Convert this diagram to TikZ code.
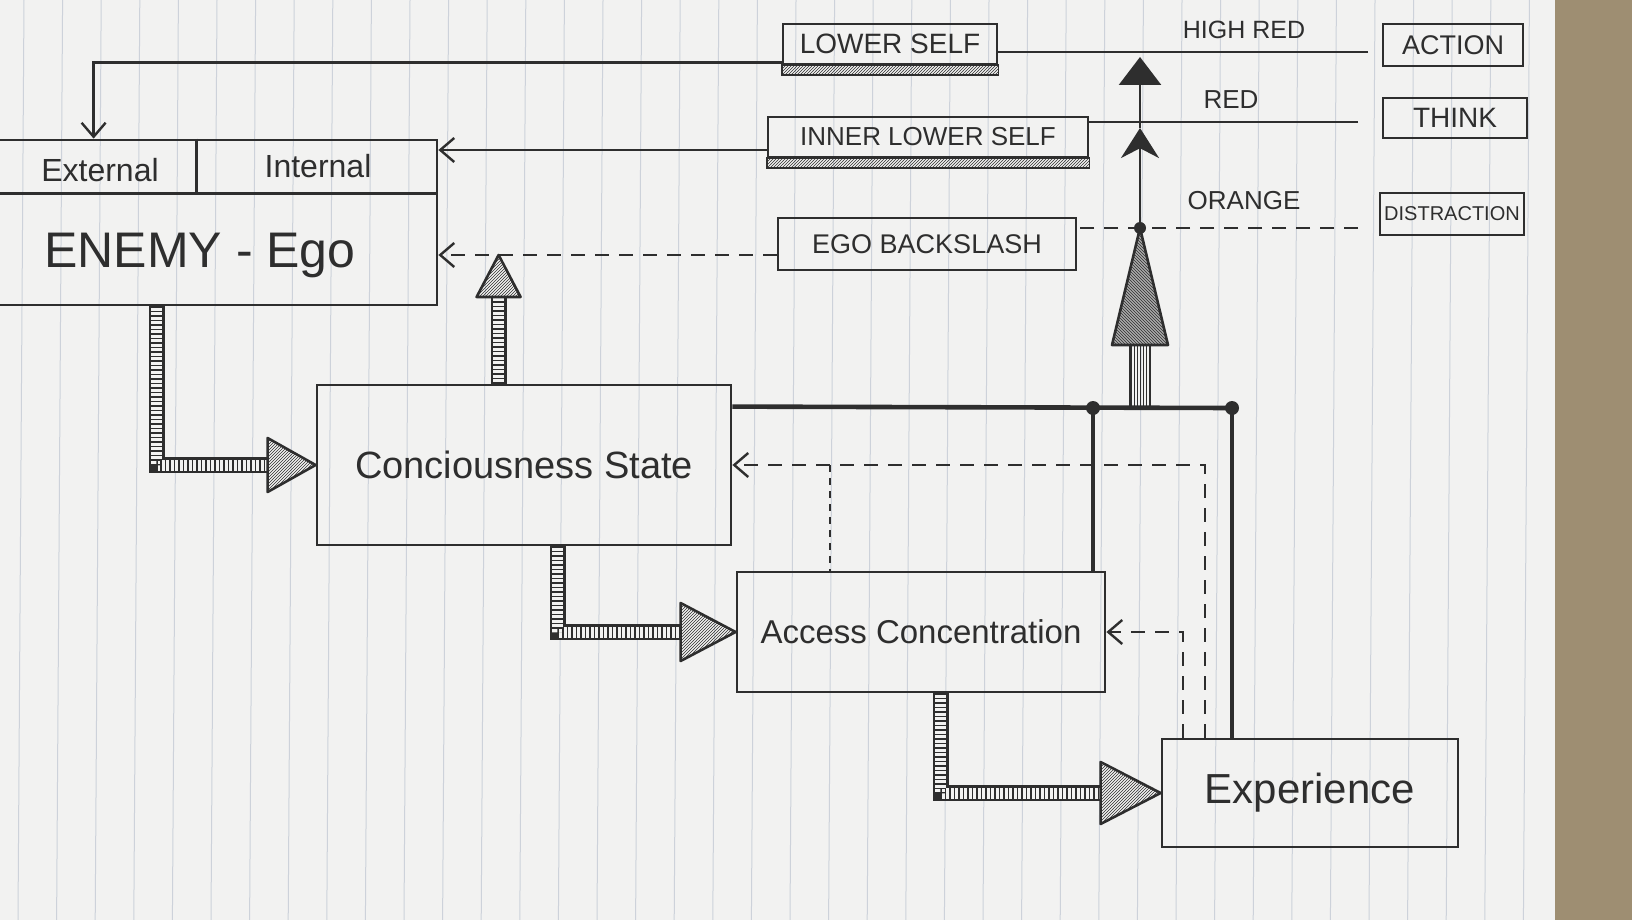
\documentclass[tikz,border=0pt]{standalone}
\usepackage{fontspec}
\setmainfont{Liberation Sans}
\usetikzlibrary{arrows.meta,patterns,calc}
\definecolor{ink}{HTML}{2E2E2E}
\definecolor{paper}{HTML}{F2F2F1}
\definecolor{rulec}{HTML}{CDD2DA}
\definecolor{carpet}{HTML}{9E8E72}
\newcommand{\myfs}[1]{\fontsize{#1}{#1}\selectfont}
\begin{document}
\begin{tikzpicture}[x=1pt,y=-1pt,
  box/.style={draw=ink, line width=2.8pt, rectangle, inner sep=0pt, text=ink},
  conn/.style={draw=ink, line width=2.8pt},
  dashconn/.style={draw=ink, line width=2.4pt, dash pattern=on 14pt off 10pt},
  dashfine/.style={draw=ink, line width=2.4pt, dash pattern=on 7pt off 6pt},
  bus/.style={draw=ink, line width=4.6pt},
  barb/.style={-{Straight Barb[length=14pt,width=24pt,line width=2.4pt]}},
  lbl/.style={text=ink, inner sep=0pt},
  fatouter/.style={draw=ink, line width=2.4pt, double=paper, double distance=11pt},
  fatstripe/.style={draw=ink, line width=11pt, dash pattern=on 1.5pt off 3pt},
  fathead/.style={draw=ink, line width=2.6pt, pattern=north east lines, pattern color=ink, line join=round},
  strip/.style={draw=ink, line width=1.8pt, pattern=north east lines, pattern color=ink},
  dot/.style={circle, fill=ink, inner sep=0pt, minimum size=14pt}
]
% page
\useasboundingbox (0,0) rectangle (1632,920);
\fill[paper] (0,0) rectangle (1632,920);
\foreach \i in {0,...,39} \draw[rulec, line width=1pt] ({24+38.6*\i},0) -- ({18+38.6*\i},920);
\fill[carpet] (1555,0) rectangle (1632,920);

% ENEMY box
\node[box, minimum width=440pt, minimum height=165pt] (enemy) at (217,222.5) {};
\draw[conn] ($(enemy.north west)+(0,55)$) -- ($(enemy.north east)+(0,55)$);
\draw[conn] ($(enemy.north west)+(201,0)$) -- ($(enemy.north west)+(201,55)$);
\node[lbl, font=\myfs{32}] (ext) at (100,170) {External};
\node[lbl, font=\myfs{32}] (int) at (318,166) {Internal};
\node[lbl, font=\myfs{50}] (eego) at (200,255) {ENEMY - Ego};

% level boxes (left)
\node[box, minimum width=214pt, minimum height=40pt, font=\myfs{28}] (lowerself) at (890,44) {LOWER SELF};
\draw[strip] (lowerself.south west) rectangle ($(lowerself.south east)+(0,10)$);
\node[box, minimum width=320pt, minimum height=40pt, font=\myfs{26}] (innerlower) at (928,137) {INNER LOWER SELF};
\draw[strip] (innerlower.south west) rectangle ($(innerlower.south east)+(0,10)$);
\node[box, minimum width=298pt, minimum height=52pt, font=\myfs{27}] (egoback) at (927,244) {EGO BACKSLASH};

% level boxes (right)
\node[box, minimum width=140pt, minimum height=42pt, font=\myfs{27}] (action) at (1453,45) {ACTION};
\node[box, minimum width=144pt, minimum height=40pt, font=\myfs{28}] (think) at (1455,118) {THINK};
\node[box, minimum width=144pt, minimum height=42pt, font=\myfs{20}] (distr) at (1452,214) {DISTRACTION};

% level labels
\node[lbl, font=\myfs{25}] (lhr) at (1244,30) {HIGH RED};
\node[lbl, font=\myfs{26}] (lred) at (1231,100) {RED};
\node[lbl, font=\myfs{26}] (lor) at (1244,201) {ORANGE};

% main boxes
\node[box, minimum width=414pt, minimum height=160pt, font=\myfs{38}] (cons) at (524,465) {Conciousness State};
\node[box, minimum width=368pt, minimum height=120pt, font=\myfs{33}] (access) at (921,632) {Access Concentration};
\node[box, minimum width=296pt, minimum height=108pt, font=\myfs{42}] (exper) at (1310,793) {Experience};

% level lines
\coordinate (hrEnd) at (1368,52);
\coordinate (redEnd) at (1358,122);
\coordinate (orEnd) at (1358,228);
\coordinate (yRedL) at (0,150);
\coordinate (yOrL) at (0,255);
\coordinate (extTop) at ($(enemy.north west)+(98,0)$);
\draw[conn] (hrEnd) -- (lowerself.east |- hrEnd);
\draw[conn, barb] ($(lowerself.south west)+(0,-3)$) -| (extTop);
\draw[conn] (redEnd) -- (innerlower.east |- redEnd);
\draw[conn, barb] (innerlower.west |- yRedL) -- (enemy.east |- yRedL);
\draw[dashconn] (orEnd) -- (egoback.east |- orEnd);
\draw[dashconn, barb] (egoback.west |- yOrL) -- (enemy.east |- yOrL);

% fat arrow up from Conciousness State
\coordinate (upS) at ($(cons.north west)+(183,0)$);
\coordinate (upT) at (upS |- yOrL);
\draw[fatouter] (upS) -- ($(upT)+(0,42)$);
\draw[fatstripe] (upS) -- ($(upT)+(0,42)$);
\draw[fathead] (upT) -- ++(-22,42) -- ++(44,0) -- cycle;

% fat L arrows
\coordinate (s1) at ($(enemy.south west)+(161,0)$);
\draw[fatouter] (s1) |- ($(cons.west)+(-48,0)$);
\draw[fatstripe] (s1) |- ($(cons.west)+(-48,0)$);
\draw[fathead] (cons.west) -- ++(-48,-27) -- ++(0,54) -- cycle;

\coordinate (s2) at ($(cons.south west)+(242,0)$);
\draw[fatouter] (s2) |- ($(access.west)+(-55,0)$);
\draw[fatstripe] (s2) |- ($(access.west)+(-55,0)$);
\draw[fathead] (access.west) -- ++(-55,-29) -- ++(0,58) -- cycle;

\coordinate (s3) at ($(access.south west)+(205,0)$);
\draw[fatouter] (s3) |- ($(exper.west)+(-60,0)$);
\draw[fatstripe] (s3) |- ($(exper.west)+(-60,0)$);
\draw[fathead] (exper.west) -- ++(-60,-31) -- ++(0,62) -- cycle;

% bus
\coordinate (b0) at ($(cons.north east)+(0,23)$);
\node[dot] (dot1) at (1093,408) {};
\node[dot] (dot2) at (1232,408) {};
\draw[bus] (b0) -- (dot2.center);
\draw[bus] (dot1.center) -- (dot1.center |- access.north);
\draw[bus] (dot2.center) -- (dot2.center |- exper.north);

% central rising arrow
\coordinate (cBase) at (1140,408);
\coordinate (headBase) at (1140,345);
\coordinate (apex) at (1140,228);
\coordinate (redTip) at (1140,128);
\coordinate (hrTip) at (1140,57);
\draw[draw=ink, line width=1.8pt, pattern=vertical lines, pattern color=ink] ($(cBase)+(-10,0)$) rectangle ($(headBase)+(10,0)$);
\fill[ink!40] (apex) -- ($(headBase)+(-28,0)$) -- ($(headBase)+(28,0)$) -- cycle;
\draw[fathead, pattern=north west lines] (apex) -- ($(headBase)+(-28,0)$) -- ($(headBase)+(28,0)$) -- cycle;
\node[dot, minimum size=12pt] (apexdot) at (apex) {};
\draw[conn, -{Stealth[length=30pt,width=38pt]}] (apexdot.center) -- (redTip);
\draw[conn, -{Triangle[length=28pt,width=42pt]}] (redTip) -- (hrTip);

% dashed feedback
\coordinate (dx1) at (1205,0);
\coordinate (dx2) at (1183,0);
\coordinate (dx3) at (830,0);
\draw[dashconn, barb] (dx1 |- exper.north) |- (cons.east);
\draw[dashfine] (dx3 |- cons.east) -- (dx3 |- access.north);
\draw[dashconn, barb] (dx2 |- exper.north) |- (access.east);
\end{tikzpicture}
\end{document}
